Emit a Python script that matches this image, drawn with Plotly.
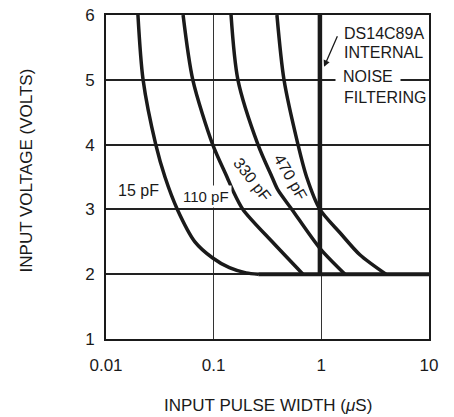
import plotly.graph_objects as go

# ---- data ----
x_ticks = [0.01, 0.1, 1, 10]
x_tick_labels = ["0.01", "0.1", "1", "10"]
y_ticks = [1, 2, 3, 4, 5, 6]

v_15pF = [6, 5, 4, 3.5, 3, 2.5, 2.25, 2.1, 2.02, 2.0]
w_15pF = [0.0198, 0.0221, 0.029, 0.0353, 0.046, 0.067, 0.098, 0.14, 0.2, 0.26]

v_110pF = [6, 5, 4, 3.5, 3.3, 3, 2.5, 2]
w_110pF = [0.052, 0.064, 0.098, 0.133, 0.15, 0.187, 0.35, 0.675]

v_330pF = [6, 5, 4, 3.5, 3.3, 3, 2.4, 2]
w_330pF = [0.145, 0.168, 0.258, 0.348, 0.395, 0.533, 0.97, 1.66]

v_470pF = [6, 5, 4, 3.5, 3, 2.64, 2.3, 2.0]
w_470pF = [0.387, 0.45, 0.607, 0.73, 0.97, 1.49, 2.28, 3.98]

floor_w = [0.26, 10]
floor_v = [2, 2]

noise_w = [0.97, 0.97]
noise_v = [2, 6]

curve_labels = ["15 pF", "110 pF", "330 pF", "470 pF"]

FONT = "Liberation Sans, Arial, sans-serif"
INK = "#1a1a1a"

fig = go.Figure()
for w, v in [(w_15pF, v_15pF), (w_110pF, v_110pF), (w_330pF, v_330pF), (w_470pF, v_470pF)]:
    fig.add_trace(go.Scatter(x=w, y=v, mode="lines",
                             line=dict(color=INK, width=3.5, shape="spline", smoothing=0.8),
                             hoverinfo="skip", showlegend=False))
fig.add_trace(go.Scatter(x=floor_w, y=floor_v, mode="lines",
                         line=dict(color=INK, width=4), showlegend=False, hoverinfo="skip"))
fig.add_trace(go.Scatter(x=noise_w, y=noise_v, mode="lines",
                         line=dict(color=INK, width=4.5), showlegend=False, hoverinfo="skip"))

ann = []
def txt(t, x, y, angle=0, bg=None, size=16, xanchor="center", pad=0):
    d = dict(text=t, x=x, y=y, xref="paper", yref="paper", showarrow=False,
             textangle=angle, font=dict(family=FONT, size=size, color=INK),
             xanchor=xanchor, yanchor="middle")
    if bg:
        d["bgcolor"] = bg
        d["borderpad"] = pad
    ann.append(d)

txt(curve_labels[0], 0.102, 0.457)
txt(curve_labels[1], 0.310, 0.441, bg="white", size=15, pad=2)
txt(curve_labels[2], 0.452, 0.491, angle=52)
txt(curve_labels[3], 0.573, 0.500, angle=60)

txt("DS14C89A", 0.731, 0.944, xanchor="left", size=16)
txt("INTERNAL", 0.731, 0.883, xanchor="left", size=16)
txt("NOISE", 0.709, 0.809, xanchor="left", bg="white", size=16, pad=7)
txt("FILTERING", 0.731, 0.744, xanchor="left", size=16)

ann.append(dict(text="", x=0.675, y=0.840, xref="paper", yref="paper", showarrow=True,
                ax=14, ay=-32, arrowhead=2, arrowsize=1, arrowwidth=1.3, arrowcolor=INK))

txt("INPUT PULSE WIDTH (<i>\u03bc</i>S)", 0.5, -0.204, size=17)
txt("INPUT VOLTAGE (VOLTS)", -0.245, 0.52, angle=-90, size=17)

fig.update_layout(
    width=454, height=417,
    margin=dict(l=106, r=25, t=15, b=78, autoexpand=False),
    paper_bgcolor="white", plot_bgcolor="white",
    annotations=ann,
    font=dict(family=FONT, size=17, color=INK),
)
fig.update_xaxes(type="log", range=[-2, 1], tickvals=x_ticks, ticktext=x_tick_labels,
                 showgrid=True, gridcolor="#333", gridwidth=1.2, automargin=False,
                 showline=True, linecolor=INK, linewidth=2, mirror=True,
                 ticks="", zeroline=False, tickfont=dict(size=17), ticklabelstandoff=10,
                 ticklabeloverflow="allow")
fig.update_yaxes(range=[1, 6], tickvals=y_ticks, automargin=False,
                 showgrid=True, gridcolor="#222", gridwidth=2,
                 showline=True, linecolor=INK, linewidth=2, mirror=True,
                 ticks="", zeroline=False, tickfont=dict(size=17), ticklabelstandoff=6,
                 ticklabeloverflow="allow")

# remove the browser's default 8px body margin so the figure fills the window
fig.write_html("out.html", config={"displayModeBar": False},
               post_script="document.body.style.margin='0px';")
